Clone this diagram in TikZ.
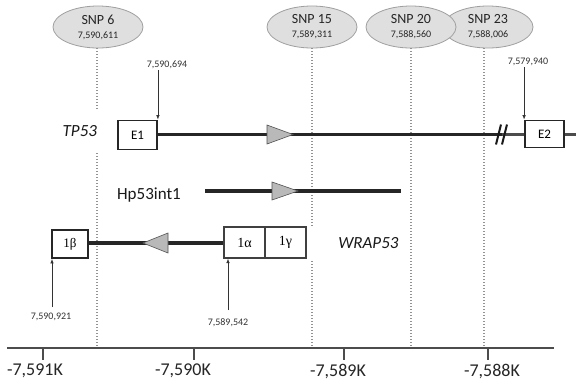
\documentclass[tikz,border=0pt]{standalone}
\usepackage{fontspec}
\setmainfont{Carlito}
\newfontfamily\grserif{Liberation Serif}
\usetikzlibrary{shapes.geometric,arrows.meta}
\tikzset{
  snp/.style={ellipse, draw=gray!75, fill=gray!25, line width=0.8pt, minimum width=90pt, minimum height=42pt, inner sep=0pt, align=center, font=\fontsize{14}{14}\selectfont, text=black!85},
  dotline/.style={draw=gray!85, line width=1.4pt, dash pattern=on 1.4pt off 1.6pt},
  exonthick/.style={draw=black!85, line width=1.8pt, fill=white, minimum width=39pt, minimum height=29pt, inner sep=0pt, font=\fontsize{13}{13}\selectfont},
  exonthin/.style={draw=black!75, line width=1.2pt, fill=white, minimum width=41pt, minimum height=31pt, inner sep=0pt, font=\fontsize{14}{14}\grserif},
  gene/.style={line width=3.2pt, draw=black!85},
  tri/.style={fill=gray!55, draw=gray!65!black, line width=0.6pt},
  ptr/.style={-{Latex[length=4.5pt,width=3.5pt]}, line width=0.7pt, draw=black!80},
  poslab/.style={font=\fontsize{10}{10}\selectfont, text=black!80, inner sep=1pt},
  genelab/.style={font=\fontsize{17}{17}\selectfont, text=black!90},
  axisline/.style={draw=gray!60!black, line width=1.2pt},
  axlab/.style={font=\fontsize{18}{18}\selectfont, text=black!85},
}
\begin{document}
\begin{tikzpicture}[x=1pt,y=-1pt]
\useasboundingbox[fill=white] (0,0) rectangle (576,384);
% axis reference coordinates
\coordinate (axL) at (7,348);
\coordinate (axR) at (554,348);
% SNP ellipses
\node[snp] (s6) at (98,27) {SNP 6\\{\fontsize{10}{10}\selectfont 7,590,611}};
\node[snp] (s15) at (312,27) {SNP 15\\{\fontsize{10}{10}\selectfont 7,589,311}};
\node[snp] (s23) at (488,27) {SNP 23\\{\fontsize{10}{10}\selectfont 7,588,006}};
\node[snp] (s20) at (411,27) {SNP 20\\{\fontsize{10}{10}\selectfont 7,588,560}};
% dotted SNP lines
\coordinate (d6) at (97,48);
\coordinate (d15) at (312,48);
\coordinate (d20) at (411,48);
\coordinate (d23) at (484,48);
\draw[dotline] (d6) -- (d6 |- axL);
\draw[dotline] (d15) -- (d15 |- axL);
\draw[dotline] (d20) -- (d20 |- axL);
\draw[dotline] (d23) -- (d23 |- axL);
% TP53 row
\node[exonthick] (e1) at (137.5,135) {E1};
\node[exonthick, minimum height=27pt] (e2) at (544.5,134) {E2};
\coordinate (brk) at (502,134.5);
\coordinate (tpend) at (576,134.5);
\draw[gene] (e1.east |- brk) -- (brk);
\draw[gene, draw=black!70] (brk) -- (e2.west |- brk);
\draw[gene, draw=black!70] (e2.east |- brk) -- (tpend);
\draw[line width=2pt, black!90] ([shift={(-6,10)}]brk) -- ([shift={(-1,-10)}]brk);
\draw[line width=2pt, black!90] ([shift={(0,10)}]brk) -- ([shift={(5,-10)}]brk);
\fill[tri] (267,125) -- (293,134.5) -- (267,144) -- cycle;
\node[genelab, font=\fontsize{17}{17}\itshape, fill=white, text width=38pt, align=right, inner xsep=2pt, minimum height=40pt] (tp53) at (78,131) {TP53};
% Hp53int1 row
\node[genelab] (hp) at (149,195) {Hp53int1};
\coordinate (hpA) at (205,191);
\coordinate (hpB) at (401,191);
\draw[gene] (hpA) -- (hpB);
\fill[tri] (272,182) -- (298,191) -- (272,200) -- cycle;
% WRAP53 row
\node[exonthick, minimum width=36pt, minimum height=28pt] (b1) at (70,244) {\grserif 1β};
\node[exonthin] (a1) at (244.5,242.5) {1α};
\node[exonthin] (g1) at (285.5,242.5) {1γ};
\draw[gene] (a1.west |- 0,243) -- (b1.east |- 0,243);
\fill[tri] (168,233) -- (143,243) -- (168,253) -- cycle;
\node[genelab, font=\fontsize{17}{17}\itshape, fill=white, text width=87pt, align=right, inner xsep=2pt, minimum height=31pt] (wrap) at (355,243) {WRAP53};
% position pointers
\node[poslab] (p694) at (167,65) {7,590,694};
\draw[ptr] (e1.north east |- p694.south) -- (e1.north east);
\node[poslab] (p940) at (528,62) {7,579,940};
\draw[ptr] (e2.north west |- p940.south) -- (e2.north west);
\node[poslab] (p921) at (51,317) {7,590,921};
\coordinate (q921) at (52,307);
\draw[ptr] (q921) -- (q921 |- b1.south);
\node[poslab] (p542) at (228,323) {7,589,542};
\coordinate (q542) at (228,310);
\draw[ptr] (q542) -- (q542 |- a1.south);
% axis
\draw[axisline] (axL) -- (axR);
\coordinate (t1) at (43,348);
\coordinate (t2) at (194,348);
\coordinate (t3) at (344,348);
\coordinate (t4) at (488,348);
\draw[axisline] (t1) -- ++(0,12);
\draw[axisline] (t2) -- ++(0,12);
\draw[axisline] (t3) -- ++(0,12);
\draw[axisline] (t4) -- ++(0,12);
\node[axlab] (l1) at (35,371) {-7,591K};
\node[axlab] (l2) at (183,371) {-7,590K};
\node[axlab] (l3) at (338,371) {-7,589K};
\node[axlab] (l4) at (492,371) {-7,588K};
\end{tikzpicture}
\end{document}
